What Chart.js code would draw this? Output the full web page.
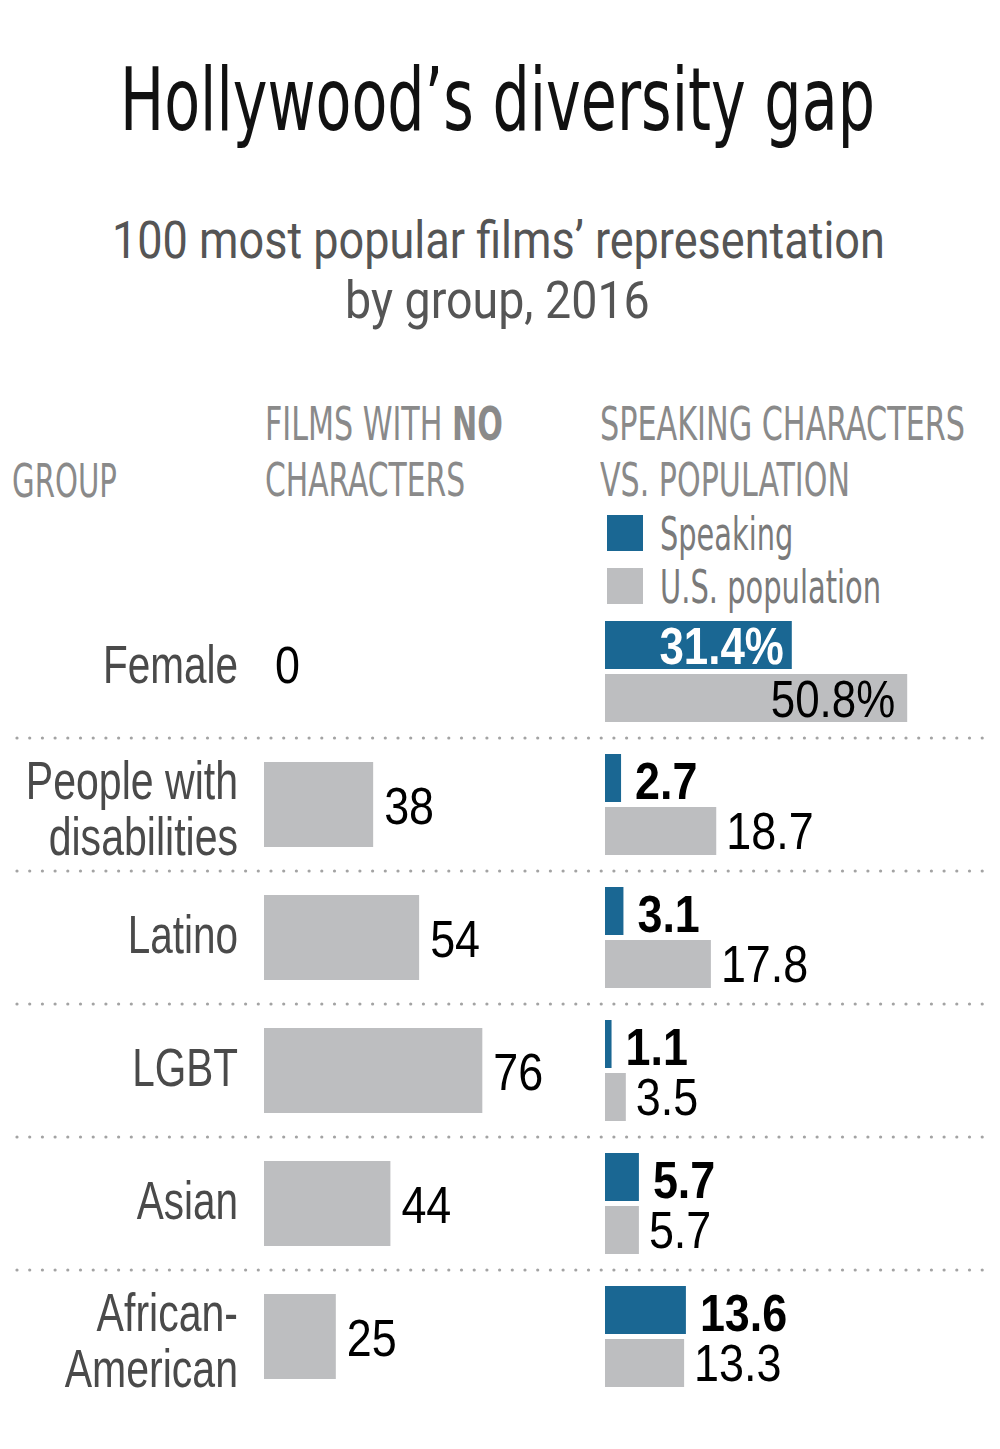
<!DOCTYPE html>
<html>
<head>
<meta charset="utf-8">
<script src="https://cdn.jsdelivr.net/npm/chart.js@4"></script>
<style>
  body{margin:0;width:1000px;height:1449px;background:#fff;position:relative;overflow:hidden;
       font-family:"Liberation Sans Narrow","DejaVu Sans Condensed",sans-serif}
  .t{position:absolute;white-space:nowrap;line-height:1;transform-origin:0 0}
  .hd{font-size:47px;color:#8a8a8a}
  .lg{font-size:46px;color:#7a7a7a}
  .sq{position:absolute;width:36px;height:36px}
  canvas{position:absolute;left:0;top:605px}
</style>
</head>
<body>
<div class="t" data-w="755" style="left:120px;top:56px;font-size:88px;color:#111">Hollywood’s diversity gap</div>
<div class="t" data-w="773" style="left:112px;top:215px;font-size:51px;color:#555;font-family:Roboto,sans-serif">100 most popular films’ representation</div>
<div class="t" data-w="305" style="left:345px;top:275px;font-size:51px;color:#555;font-family:Roboto,sans-serif">by group, 2016</div>

<div class="t hd" data-w="105" style="left:12px;top:457px">GROUP</div>
<div class="t hd" data-w="238" style="left:265px;top:400px">FILMS WITH <b>NO</b></div>
<div class="t hd" data-w="200" style="left:265px;top:456px">CHARACTERS</div>
<div class="t hd" data-w="365" style="left:600px;top:400px">SPEAKING CHARACTERS</div>
<div class="t hd" data-w="250" style="left:600px;top:456px">VS. POPULATION</div>

<div class="sq" style="left:607px;top:515px;background:#1a6793"></div>
<div class="sq" style="left:607px;top:568px;background:#bdbec0"></div>
<div class="t lg" data-w="133" style="left:660px;top:511px">Speaking</div>
<div class="t lg" data-w="221" style="left:660px;top:564px">U.S. population</div>

<canvas id="leftChart" width="1000" height="798"></canvas>
<canvas id="rightChart" width="1000" height="798"></canvas>

<script>
const groups = ['Female', ['People with', 'disabilities'], 'Latino', 'LGBT', 'Asian', ['African-', 'American']]
const filmsNoChars = [0, 38, 54, 76, 44, 25]
const speaking = [31.4, 2.7, 3.1, 1.1, 5.7, 13.6]
const population = [50.8, 18.7, 17.8, 3.5, 5.7, 13.3]

const BLUE = '#1a6793'
const GRAY = '#bdbec0'
const FONT = "'Liberation Sans', Arial, sans-serif"

//squeeze html text to the widths in the picture
function fitText(){
    document.querySelectorAll('[data-w]').forEach(el=>{
        el.style.transform = 'scaleX(' + (el.dataset.w / el.offsetWidth) + ')'
    })
}
fitText()

//canvas text, squeezed sideways so it reads as a condensed face
function drawText(ctx, text, x, y, align, sx){
    ctx.save()
    ctx.translate(x, y)
    ctx.scale(sx, 1)
    ctx.textAlign = align
    ctx.fillText(text, 0, 0)
    ctx.restore()
}

//dotted rules between the rows
const dottedRules = {
    id: 'dottedRules',
    afterDraw(chart){
        const {ctx} = chart
        const y = chart.scales.y
        ctx.save()
        ctx.fillStyle = '#a3a3a3'
        for(let i = 0; i < groups.length - 1; i++){
            const yy = (y.getPixelForValue(i) + y.getPixelForValue(i + 1)) / 2
            for(let x = 17; x < 990; x += 12.7){
                ctx.beginPath()
                ctx.arc(x, yy, 1.6, 0, Math.PI * 2)
                ctx.fill()
            }
        }
        ctx.restore()
    }
}

//group names on the left, right aligned
const groupLabels = {
    id: 'groupLabels',
    afterDraw(chart){
        const {ctx} = chart
        const y = chart.scales.y
        ctx.save()
        ctx.font = '54px ' + FONT
        ctx.fillStyle = '#4a4a4a'
        groups.forEach((g, i)=>{
            const c = y.getPixelForValue(i)
            if(Array.isArray(g)){
                drawText(ctx, g[0], 238, c - 6, 'right', 0.76)
                drawText(ctx, g[1], 238, c + 50, 'right', 0.76)
            } else {
                drawText(ctx, g, 238, c + (i === 0 ? 11 : 15), 'right', 0.75)
            }
        })
        ctx.restore()
    }
}

const leftLabels = {
    id: 'leftLabels',
    afterDatasetsDraw(chart){
        const {ctx} = chart
        ctx.save()
        ctx.font = '51px ' + FONT
        ctx.fillStyle = '#000'
        chart.getDatasetMeta(0).data.forEach((bar, i)=>{
            drawText(ctx, String(filmsNoChars[i]), bar.x + 11, bar.y + (i === 0 ? 11 : 19), 'left', 0.88)
        })
        ctx.restore()
    }
}

const rightLabels = {
    id: 'rightLabels',
    afterDatasetsDraw(chart){
        const {ctx} = chart
        ctx.save()
        ctx.font = 'bold 51px ' + FONT
        chart.getDatasetMeta(0).data.forEach((bar, i)=>{
            if(i === 0){
                ctx.fillStyle = '#fff'
                drawText(ctx, speaking[i].toFixed(1) + '%', bar.x - 8, bar.y + 19, 'right', 0.86)
            } else {
                ctx.fillStyle = '#000'
                drawText(ctx, speaking[i].toFixed(1), bar.x + 14, bar.y + 21, 'left', 0.88)
            }
        })
        ctx.font = '51px ' + FONT
        ctx.fillStyle = '#000'
        chart.getDatasetMeta(1).data.forEach((bar, i)=>{
            if(i === 0){
                drawText(ctx, population[i].toFixed(1) + '%', bar.x - 12, bar.y + 19, 'right', 0.86)
            } else {
                drawText(ctx, population[i].toFixed(1), bar.x + 10, bar.y + 18, 'left', 0.88)
            }
        })
        ctx.restore()
    }
}

new Chart(document.getElementById('leftChart'), {
    type: 'bar',
    data: {
        labels: groups,
        datasets: [{
            data: filmsNoChars,
            backgroundColor: GRAY,
            barThickness: 85,
            inflateAmount: 0
        }]
    },
    options: {
        indexAxis: 'y',
        responsive: false,
        animation: false,
        layout: { padding: { left: 264, right: 420 } },
        plugins: { legend: { display: false }, tooltip: { enabled: false } },
        scales: {
            x: { display: false, min: 0, max: 110 },
            y: { display: false }
        }
    },
    plugins: [dottedRules, groupLabels, leftLabels]
})

new Chart(document.getElementById('rightChart'), {
    type: 'bar',
    data: {
        labels: groups,
        datasets: [
            { label: 'Speaking', data: speaking, backgroundColor: BLUE, inflateAmount: 0 },
            { label: 'U.S. population', data: population, backgroundColor: GRAY, inflateAmount: 0 }
        ]
    },
    options: {
        indexAxis: 'y',
        responsive: false,
        animation: false,
        categoryPercentage: 0.797,
        barPercentage: 0.906,
        layout: { padding: { left: 605 } },
        plugins: { legend: { display: false }, tooltip: { enabled: false } },
        scales: {
            x: { display: false, min: 0, max: 66.4 },
            y: { display: false }
        }
    },
    plugins: [rightLabels]
})
</script>
</body>
</html>
